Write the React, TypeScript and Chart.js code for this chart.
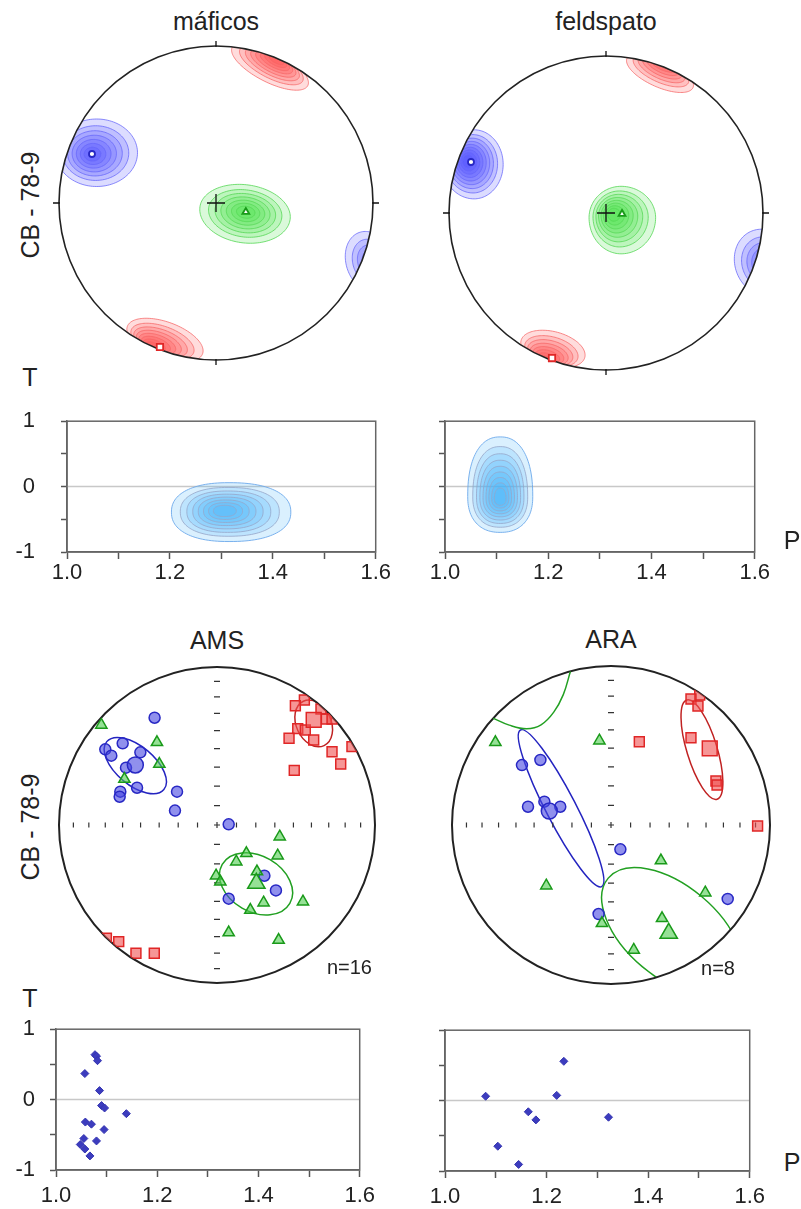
import React, { useEffect, useRef } from "react";
import { Chart, registerables } from "chart.js";

Chart.register(...registerables);

const FONT = '"Liberation Sans", Arial, Helvetica, sans-serif';
const INK = "#222";

// ---------- stereonets: equal-area projection, unit primitive circle (x = E, y = N) ----------

// máficos — density maxima of k1 (red), k2 (green), k3 (blue)
const MAF_K1_MAX = [[-0.357, -0.917]];
const MAF_K2_MAX = [[0.19, -0.057]];
const MAF_K3_MAX = [[-0.79, 0.312]];
// density clusters: [cx, cy, rLeft, rRight, rUp, rDown, rotation°, peakX, peakY, levels]
const MAF_K1_DENS = [
  [0.344, 0.87, 0.27, 0.27, 0.1, 0.1, -27, 0.39, 0.915, 8],
  [-0.325, -0.873, 0.255, 0.255, 0.115, 0.115, -20, -0.41, -0.915, 8],
];
const MAF_K2_DENS = [[0.185, -0.064, 0.29, 0.29, 0.18, 0.19, -8, 0.19, -0.057, 7]];
const MAF_K3_DENS = [
  [-0.76, 0.32, 0.26, 0.26, 0.215, 0.215, 0, -0.79, 0.31, 7],
  [0.98, -0.376, 0.15, 0.15, 0.2, 0.2, 20, 1.0, -0.38, 5],
];

// feldspato
const FEL_K1_MAX = [[-0.344, -0.924]];
const FEL_K2_MAX = [[0.102, -0.006]];
const FEL_K3_MAX = [[-0.86, 0.325]];
const FEL_K1_DENS = [
  [0.344, 0.892, 0.23, 0.23, 0.09, 0.09, -24, 0.376, 0.968, 8],
  [-0.338, -0.866, 0.21, 0.21, 0.11, 0.11, -15, -0.39, -0.94, 8],
];
const FEL_K2_DENS = [[0.096, -0.03, 0.204, 0.22, 0.2, 0.23, 0, 0.045, -0.006, 8]];
const FEL_K3_DENS = [
  [-0.84, 0.31, 0.2, 0.185, 0.22, 0.22, 0, -0.88, 0.33, 9],
  [1.013, -0.318, 0.19, 0.19, 0.22, 0.22, 25, 1.03, -0.33, 6],
];

// AMS — individual specimens and mean axes
const AMS_K3 = [
  [-0.395, 0.679], [-0.707, 0.479], [-0.669, 0.439], [-0.597, 0.517], [-0.485, 0.46],
  [-0.576, 0.363], [-0.506, 0.236], [-0.612, 0.211], [-0.616, 0.179], [-0.253, 0.211],
  [-0.266, 0.091], [0.074, 0.004], [0.3, -0.321], [0.373, -0.414], [0.074, -0.466],
];
const AMS_K3_MEAN = [[-0.517, 0.38]];
const AMS_K1 = [
  [0.553, 0.791], [0.496, 0.755], [0.658, 0.734], [0.692, 0.671], [0.728, 0.671],
  [0.511, 0.61], [0.559, 0.601], [0.456, 0.549], [0.612, 0.538], [0.728, 0.464],
  [0.854, 0.496], [0.783, 0.386], [0.489, 0.346], [-0.622, -0.738], [-0.513, -0.812],
  [-0.397, -0.812], [-0.7, -0.717],
];
const AMS_K1_MEAN = [[0.612, 0.665]];
const AMS_K2 = [
  [-0.732, 0.633], [-0.38, 0.523], [-0.365, 0.386], [-0.586, 0.291], [0.397, -0.074],
  [0.186, -0.179], [0.384, -0.194], [0.122, -0.232], [0.253, -0.295], [-0.006, -0.321],
  [0.021, -0.359], [0.295, -0.492], [0.544, -0.485], [0.211, -0.538], [0.074, -0.681],
  [0.39, -0.728],
];
const AMS_K2_MEAN = [[0.249, -0.369]];
// confidence ellipses: [cx, cy, semi-major, semi-minor, azimuth of major axis °]
const AMS_K1_CONF = [[0.612, 0.643, 0.155, 0.11, -65]];
const AMS_K2_CONF = [[0.247, -0.373, 0.247, 0.177, -30]];
const AMS_K3_CONF = [[-0.517, 0.376, 0.236, 0.122, -40]];

// ARA
const ARA_K3 = [
  [-0.56, 0.377], [-0.444, 0.409], [-0.522, 0.115], [-0.419, 0.147], [-0.319, 0.115],
  [0.059, -0.153], [-0.078, -0.56], [0.734, -0.465],
];
const ARA_K3_MEAN = [[-0.388, 0.088]];
const ARA_K1 = [
  [0.558, 0.818], [0.503, 0.792], [0.547, 0.748], [0.503, 0.549], [0.66, 0.277],
  [0.667, 0.252], [0.178, 0.524], [0.922, -0.006],
];
const ARA_K1_MEAN = [[0.621, 0.482]];
const ARA_K2 = [
  [-0.727, 0.52], [-0.073, 0.53], [-0.407, -0.382], [0.314, -0.224], [0.593, -0.426],
  [-0.057, -0.618], [0.321, -0.587], [0.143, -0.786],
];
const ARA_K2_MEAN = [[0.363, -0.681]];
const ARA_K1_CONF = [[0.572, 0.474, 0.326, 0.095, -73]];
const ARA_K2_CONF = [[0.384, -0.671, 0.524, 0.289, -40]];
const ARA_K3_CONF = [[-0.314, 0.105, 0.555, 0.094, -62.6]];
// part of the k2 cone that wraps across the primitive
const ARA_K2_CONF_WRAP = [
  [-0.742, 0.672], [-0.64, 0.628], [-0.53, 0.605], [-0.44, 0.63], [-0.36, 0.71], [-0.3, 0.82], [-0.255, 0.967],
];

// graticule ticks on the AMS / ARA nets (dip, degrees)
const NET_TICK_DIPS = [10, 20, 30, 40, 50, 60, 70, 80];

// ---------- Jelinek plots (P, T) ----------
const P_TICKS = [1.0, 1.1, 1.2, 1.3, 1.4, 1.5, 1.6];
const T_TICKS = [-1, -0.5, 0, 0.5, 1];
const T_LABELS = ["-1", "", "0", "", "1"];

// density of (P, T) for the two mineral fabrics
const TP_MAF_DENS = [[1.315, -0.39, 0.112, 0.12, 0.45, 0.45, 0, 1.305, -0.37, 8]];
const TP_FEL_DENS = [[1.107, -0.15, 0.063, 0.063, 0.91, 0.55, 0, 1.107, -0.19, 9]];

const AMS_P = [1.077, 1.08, 1.082, 1.057, 1.086, 1.09, 1.096, 1.139, 1.058, 1.07, 1.095, 1.055, 1.08, 1.048, 1.057, 1.067];
const AMS_T = [0.638, 0.617, 0.553, 0.37, 0.128, -0.085, -0.119, -0.2, -0.319, -0.349, -0.426, -0.553, -0.587, -0.638, -0.702, -0.8];
const ARA_P = [1.08, 1.234, 1.22, 1.164, 1.179, 1.322, 1.104, 1.145];
const ARA_T = [0.062, 0.558, 0.074, -0.159, -0.274, -0.236, -0.648, -0.907];

// ---------- styles ----------
const K1 = { fill: "rgba(240,80,80,0.6)", line: "#e02626", conf: "#c02222" };
const K2 = { fill: "rgba(80,205,80,0.6)", line: "#1a9a1a", conf: "#22a022" };
const K3 = { fill: "rgba(70,70,225,0.6)", line: "#2828c4", conf: "#2424c0" };
const DENS = {
  k1: { fill: "rgba(255,70,70,0.19)", line: "rgba(245,100,100,0.75)" },
  k2: { fill: "rgba(70,225,70,0.2)", line: "rgba(85,215,85,0.8)" },
  k3: { fill: "rgba(70,70,255,0.19)", line: "rgba(100,100,250,0.75)" },
};
const TICK_FONT = { family: FONT, size: 22 };

const pts = (a: number[][]) => a.map(([x, y]) => ({ x, y }));
const zip = (p: number[], t: number[]) => p.map((x, i) => ({ x, y: t[i] }));

// one contour level k of a density cluster; outer levels are spaced wider than inner ones
function blobPath(ctx: CanvasRenderingContext2D, xs: any, ys: any, b: number[], k: number, expo: number) {
  const [cx, cy, rl, rr, ru, rd, rot, px, py, n] = b;
  const f = Math.pow(k / n, 0.8);
  const s = 1 - 0.9 * f;
  const ox = cx + (px - cx) * f;
  const oy = cy + (py - cy) * f;
  const th = (rot * Math.PI) / 180;
  ctx.beginPath();
  const N = 120;
  for (let i = 0; i <= N; i++) {
    const a = (i / N) * 2 * Math.PI;
    const c = Math.cos(a);
    const sn = Math.sin(a);
    const ec = Math.sign(c) * Math.pow(Math.abs(c), 2 / expo);
    const es = Math.sign(sn) * Math.pow(Math.abs(sn), 2 / expo);
    const lx = (c >= 0 ? rr : rl) * ec * s;
    const ly = (sn >= 0 ? ru : rd) * es * s;
    const dx = lx * Math.cos(th) - ly * Math.sin(th);
    const dy = lx * Math.sin(th) + ly * Math.cos(th);
    const X = xs.getPixelForValue(ox + dx);
    const Y = ys.getPixelForValue(oy + dy);
    if (i === 0) ctx.moveTo(X, Y);
    else ctx.lineTo(X, Y);
  }
  ctx.closePath();
}

type Spec = {
  density: { blobs: number[][]; fill: string; line: string }[];
  ellipses: { list: number[][]; color: string }[];
  frame: "edge" | "net";
  circleWidth: number;
  pointClip: number;
};

function stereoPlugin(spec: Spec) {
  return {
    id: "stereo",
    beforeDatasetsDraw(chart: any) {
      const { ctx } = chart;
      const xs = chart.scales.x;
      const ys = chart.scales.y;
      const cx = xs.getPixelForValue(0);
      const cy = ys.getPixelForValue(0);
      const R = xs.getPixelForValue(1) - cx;
      ctx.save();
      ctx.beginPath();
      ctx.arc(cx, cy, R, 0, Math.PI * 2);
      ctx.clip();
      for (const d of spec.density) {
        for (const b of d.blobs) {
          for (let k = 0; k < b[9]; k++) {
            blobPath(ctx, xs, ys, b, k, 2);
            ctx.fillStyle = d.fill;
            ctx.fill();
            ctx.strokeStyle = d.line;
            ctx.lineWidth = 1;
            ctx.stroke();
          }
        }
      }
      for (const e of spec.ellipses) {
        for (const [ex, ey, a, b, ang] of e.list) {
          ctx.beginPath();
          ctx.ellipse(xs.getPixelForValue(ex), ys.getPixelForValue(ey), a * R, b * R, (-ang * Math.PI) / 180, 0, Math.PI * 2);
          ctx.strokeStyle = e.color;
          ctx.lineWidth = 1.5;
          ctx.stroke();
        }
      }
      ctx.restore();

      ctx.save();
      ctx.strokeStyle = INK;
      ctx.lineWidth = spec.circleWidth;
      ctx.beginPath();
      ctx.arc(cx, cy, R, 0, Math.PI * 2);
      ctx.stroke();
      ctx.lineWidth = 1.3;
      ctx.strokeStyle = "#111";
      if (spec.frame === "edge") {
        ctx.beginPath();
        ctx.moveTo(cx, cy - R - 5); ctx.lineTo(cx, cy - R + 1);
        ctx.moveTo(cx, cy + R - 1); ctx.lineTo(cx, cy + R + 5);
        ctx.moveTo(cx - R - 6, cy); ctx.lineTo(cx - R + 1, cy);
        ctx.moveTo(cx + R - 1, cy); ctx.lineTo(cx + R + 6, cy);
        ctx.moveTo(cx - 9, cy); ctx.lineTo(cx + 9, cy);
        ctx.moveTo(cx, cy - 9); ctx.lineTo(cx, cy + 9);
        ctx.stroke();
      } else {
        ctx.strokeStyle = "#333";
        ctx.lineWidth = 1.2;
        ctx.beginPath();
        for (const dip of NET_TICK_DIPS) {
          const r = Math.SQRT2 * Math.sin((dip * Math.PI) / 360) * R;
          ctx.moveTo(cx - 3, cy - r); ctx.lineTo(cx + 3, cy - r);
          ctx.moveTo(cx - 3, cy + r); ctx.lineTo(cx + 3, cy + r);
          ctx.moveTo(cx - r, cy - 2.5); ctx.lineTo(cx - r, cy + 2.5);
          ctx.moveTo(cx + r, cy - 2.5); ctx.lineTo(cx + r, cy + 2.5);
        }
        ctx.moveTo(cx - 3, cy); ctx.lineTo(cx + 3, cy);
        ctx.moveTo(cx, cy - 3); ctx.lineTo(cx, cy + 3);
        ctx.stroke();
      }
      ctx.restore();

      ctx.save();
      ctx.beginPath();
      ctx.arc(cx, cy, R * spec.pointClip, 0, Math.PI * 2);
      ctx.clip();
    },
    afterDatasetsDraw(chart: any) {
      chart.ctx.restore();
    },
  };
}

function stereoConfig(spec: Spec, layers: any[]) {
  return () => ({
    type: "scatter",
    data: { datasets: [...layers].reverse() },
    options: {
      responsive: false,
      animation: false,
      events: [],
      layout: { padding: 14 },
      plugins: { legend: { display: false }, tooltip: { enabled: false } },
      scales: {
        x: { type: "linear", min: -1, max: 1, display: false },
        y: { type: "linear", min: -1, max: 1, display: false },
      },
    },
    plugins: [stereoPlugin(spec)],
  });
}

const marks = (data: number[][], style: string, r: number, c: any) => ({
  data: pts(data),
  pointStyle: style,
  pointRadius: r,
  backgroundColor: c.fill,
  borderColor: c.line,
  borderWidth: 1.5,
});
const maxMark = (data: number[][], style: string, r: number, c: any) => ({
  data: pts(data),
  pointStyle: style,
  pointRadius: r,
  backgroundColor: "#ffffff",
  borderColor: c.line,
  borderWidth: 1.8,
});

function tpPlugin(blobs: number[][]) {
  return {
    id: "tp",
    beforeDatasetsDraw(chart: any) {
      const { ctx, chartArea: a } = chart;
      const xs = chart.scales.x;
      const ys = chart.scales.y;
      ctx.save();
      ctx.beginPath();
      ctx.rect(a.left, a.top, a.right - a.left, a.bottom - a.top);
      ctx.clip();
      const y0 = ys.getPixelForValue(0);
      ctx.strokeStyle = "#c8c8c8";
      ctx.lineWidth = 1.5;
      ctx.beginPath();
      ctx.moveTo(a.left, y0);
      ctx.lineTo(a.right, y0);
      ctx.stroke();
      for (const b of blobs) {
        for (let k = 0; k < b[9]; k++) {
          blobPath(ctx, xs, ys, b, k, 2.3);
          ctx.fillStyle = "rgba(70,178,250,0.2)";
          ctx.fill();
          ctx.strokeStyle = k === 0 ? "rgba(110,170,235,0.9)" : "rgba(150,165,200,0.8)";
          ctx.lineWidth = 1;
          ctx.stroke();
        }
      }
      ctx.restore();
    },
    afterDraw(chart: any) {
      const { ctx, chartArea: a } = chart;
      ctx.save();
      ctx.strokeStyle = "#666";
      ctx.lineWidth = 1.5;
      ctx.strokeRect(a.left, a.top, a.right - a.left, a.bottom - a.top);
      ctx.restore();
    },
  };
}

function tpConfig(o: { yWidth: number; yPad: number; xPad: number; labels: boolean; points?: any[]; blobs: number[][] }) {
  return () => ({
    type: "scatter",
    data: {
      datasets: o.points
        ? [{ data: o.points, pointStyle: "rectRot", pointRadius: 4, backgroundColor: "#3c3cbe", borderColor: "#3434b0", borderWidth: 1 }]
        : [],
    },
    options: {
      responsive: false,
      animation: false,
      events: [],
      layout: { padding: { top: 12, right: 12, left: 0, bottom: 0 } },
      plugins: { legend: { display: false }, tooltip: { enabled: false } },
      scales: {
        x: {
          type: "linear",
          min: 1,
          max: 1.6,
          afterBuildTicks: (s: any) => { s.ticks = P_TICKS.map((v) => ({ value: v })); },
          afterFit: (s: any) => { s.height = 46; },
          ticks: {
            autoSkip: false,
            maxRotation: 0,
            padding: o.xPad,
            color: INK,
            font: TICK_FONT,
            callback: (v: number, i: number) => (i % 2 === 0 ? Number(v).toFixed(1) : ""),
          },
          grid: { drawOnChartArea: false, drawTicks: true, tickLength: 7, tickColor: "#555", tickWidth: 1.5, color: "#555" },
          border: { display: true, color: "#666", width: 1.5 },
        },
        y: {
          type: "linear",
          min: -1,
          max: 1,
          afterBuildTicks: (s: any) => { s.ticks = T_TICKS.map((v) => ({ value: v })); },
          afterFit: (s: any) => { s.width = o.yWidth; },
          ticks: {
            autoSkip: false,
            padding: o.yPad,
            color: INK,
            font: TICK_FONT,
            callback: (_v: number, i: number) => (o.labels ? T_LABELS[i] : ""),
          },
          grid: { drawOnChartArea: false, drawTicks: true, tickLength: 6, tickColor: "#555", tickWidth: 1.5, color: "#555" },
          border: { display: true, color: "#666", width: 1.5 },
        },
      },
    },
    plugins: [tpPlugin(o.blobs)],
  });
}

function ChartBox({ left, top, width, height, config }: any) {
  const ref = useRef<HTMLCanvasElement>(null);
  useEffect(() => {
    const chart = new Chart(ref.current as HTMLCanvasElement, config());
    return () => chart.destroy();
  }, []);
  return (
    <canvas
      ref={ref}
      width={width}
      height={height}
      style={{ position: "absolute", left, top, width, height }}
    />
  );
}

function Stereo({ cx, cy, R, config }: any) {
  const pad = 14;
  const size = Math.round(2 * R + 2 * pad);
  return <ChartBox left={cx - R - pad} top={cy - R - pad} width={size} height={size} config={config} />;
}

function TP({ canvasLeft, plotLeft, plotRight, plotTop, plotBottom, ...rest }: any) {
  const top = plotTop - 12;
  const width = plotRight + 12 - canvasLeft;
  const height = 12 + (plotBottom - plotTop) + 46;
  return (
    <ChartBox
      left={canvasLeft}
      top={top}
      width={width}
      height={height}
      config={tpConfig({ yWidth: plotLeft - canvasLeft, ...rest })}
    />
  );
}

function Text({ x, y, children, size = 25, rotate = false, align = "center" }: any) {
  const tx = align === "right" ? "-100%" : "-50%";
  return (
    <div
      style={{
        position: "absolute",
        left: x,
        top: y,
        transform: `translate(${tx}, -50%)${rotate ? " rotate(-90deg)" : ""}`,
        fontFamily: FONT,
        fontSize: size,
        color: INK,
        whiteSpace: "nowrap",
        lineHeight: 1.15,
      }}
    >
      {children}
    </div>
  );
}

const mafConfig = stereoConfig(
  {
    density: [
      { blobs: MAF_K1_DENS, ...DENS.k1 },
      { blobs: MAF_K3_DENS, ...DENS.k3 },
      { blobs: MAF_K2_DENS, ...DENS.k2 },
    ],
    ellipses: [],
    frame: "edge",
    circleWidth: 1.6,
    pointClip: 1.08,
  },
  [maxMark(MAF_K1_MAX, "rect", 4.5, K1), maxMark(MAF_K3_MAX, "circle", 3, K3), maxMark(MAF_K2_MAX, "triangle", 4, K2)]
);

const felConfig = stereoConfig(
  {
    density: [
      { blobs: FEL_K1_DENS, ...DENS.k1 },
      { blobs: FEL_K3_DENS, ...DENS.k3 },
      { blobs: FEL_K2_DENS, ...DENS.k2 },
    ],
    ellipses: [],
    frame: "edge",
    circleWidth: 1.6,
    pointClip: 1.08,
  },
  [maxMark(FEL_K1_MAX, "rect", 4.5, K1), maxMark(FEL_K3_MAX, "circle", 3, K3), maxMark(FEL_K2_MAX, "triangle", 4, K2)]
);

const amsConfig = stereoConfig(
  {
    density: [],
    ellipses: [
      { list: AMS_K1_CONF, color: K1.conf },
      { list: AMS_K3_CONF, color: K3.conf },
      { list: AMS_K2_CONF, color: K2.conf },
    ],
    frame: "net",
    circleWidth: 2,
    pointClip: 1,
  },
  [
    marks(AMS_K1, "rect", 7, K1),
    marks(AMS_K3, "circle", 5.5, K3),
    marks(AMS_K2, "triangle", 6.5, K2),
    marks(AMS_K1_MEAN, "rect", 10.5, K1),
    marks(AMS_K3_MEAN, "circle", 8, K3),
    marks(AMS_K2_MEAN, "triangle", 10, K2),
  ]
);

const araConfig = stereoConfig(
  {
    density: [],
    ellipses: [
      { list: ARA_K1_CONF, color: K1.conf },
      { list: ARA_K3_CONF, color: K3.conf },
      { list: ARA_K2_CONF, color: K2.conf },
    ],
    frame: "net",
    circleWidth: 2,
    pointClip: 1,
  },
  [
    {
      data: pts(ARA_K2_CONF_WRAP),
      showLine: true,
      borderColor: K2.conf,
      borderWidth: 1.5,
      pointRadius: 0,
      tension: 0.4,
      fill: false,
    },
    marks(ARA_K1, "rect", 7, K1),
    marks(ARA_K3, "circle", 5.5, K3),
    marks(ARA_K2, "triangle", 6.5, K2),
    marks(ARA_K1_MEAN, "rect", 10.5, K1),
    marks(ARA_K3_MEAN, "circle", 8, K3),
    marks(ARA_K2_MEAN, "triangle", 10, K2),
  ]
);

export default function App() {
  return (
    <div
      style={{
        position: "absolute",
        left: 0,
        top: 0,
        width: 801,
        height: 1209,
        overflow: "hidden",
        background: "#fff",
        fontFamily: FONT,
      }}
    >
      <Text x={216} y={21}>máficos</Text>
      <Text x={606} y={21}>feldspato</Text>
      <Text x={30} y={205} rotate>CB - 78-9</Text>
      <Text x={30} y={377}>T</Text>
      <Stereo cx={216} cy={203} R={157} config={mafConfig} />
      <Stereo cx={606} cy={212.5} R={157} config={felConfig} />

      <TP canvasLeft={0} plotLeft={67} plotRight={380} plotTop={394} plotBottom={552} yPad={26} xPad={1} labels blobs={TP_MAF_DENS} />
      <TP canvasLeft={400} plotLeft={445} plotRight={759} plotTop={394} plotBottom={552} yPad={26} xPad={1} labels={false} blobs={TP_FEL_DENS} />
      <Text x={792} y={540}>P</Text>

      <Text x={217} y={640}>AMS</Text>
      <Text x={611} y={639}>ARA</Text>
      <Text x={30} y={827} rotate>CB - 78-9</Text>
      <Stereo cx={217} cy={825} R={158} config={amsConfig} />
      <Stereo cx={611} cy={825} R={159} config={araConfig} />
      <Text x={372} y={967} size={20} align="right">n=16</Text>
      <Text x={735} y={968} size={20} align="right">n=8</Text>

      <Text x={30} y={998}>T</Text>
      <TP canvasLeft={0} plotLeft={56} plotRight={369} plotTop={1013} plotBottom={1170} yPad={15} xPad={6} labels points={zip(AMS_P, AMS_T)} blobs={[]} />
      <TP canvasLeft={400} plotLeft={445} plotRight={759} plotTop={1014} plotBottom={1171} yPad={15} xPad={6} labels={false} points={zip(ARA_P, ARA_T)} blobs={[]} />
      <Text x={792} y={1162}>P</Text>
    </div>
  );
}
